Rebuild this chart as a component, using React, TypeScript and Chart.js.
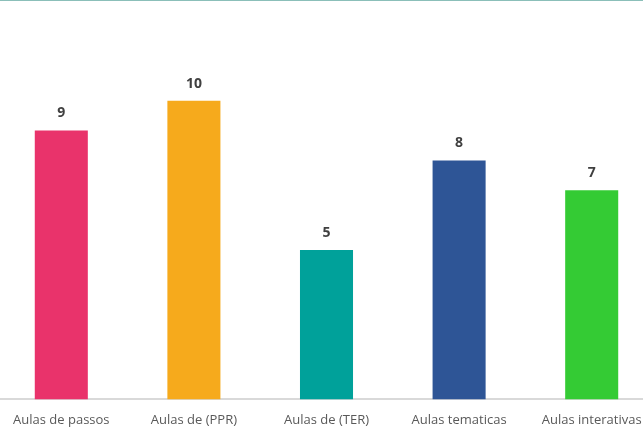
import React, { useEffect, useRef } from "react";
import { Chart, registerables } from "chart.js";

Chart.register(...registerables);

const categories = ["Aulas de passos", "Aulas de (PPR)", "Aulas de (TER)", "Aulas tematicas", "Aulas interativas"];
const values = [9, 10, 5, 8, 7];
const colors = ["#E9336B", "#F6AA1C", "#00A19A", "#2E5596", "#34CB34"];

const FONT = "'Open Sans', 'Noto Sans', sans-serif";

const extras = {
  id: "extras",
  afterDraw(chart: any) {
    const ctx = chart.ctx;
    ctx.save();
    // top line
    ctx.strokeStyle = "#8BBFB9";
    ctx.lineWidth = 2;
    ctx.beginPath();
    ctx.moveTo(0, 0);
    ctx.lineTo(chart.width, 0);
    ctx.stroke();
    // data labels
    const meta = chart.getDatasetMeta(0);
    ctx.fillStyle = "#404040";
    ctx.font = `bold 14px ${FONT}`;
    ctx.textAlign = "center";
    ctx.textBaseline = "middle";
    meta.data.forEach((bar: any, i: number) => {
      ctx.fillText(String(values[i]), bar.x, bar.y - 17);
    });
    ctx.restore();
  },
};

export default function App() {
  const ref = useRef<HTMLCanvasElement>(null);
  useEffect(() => {
    if (!ref.current) return;
    const chart = new Chart(ref.current, {
      type: "bar",
      data: {
        labels: categories,
        datasets: [
          {
            data: values,
            backgroundColor: colors,
            barPercentage: 0.5,
            categoryPercentage: 0.8,
          },
        ],
      },
      options: {
        animation: false,
        responsive: true,
        maintainAspectRatio: false,
        layout: { padding: { top: 11, left: 0, right: 0, bottom: 0 } },
        plugins: { legend: { display: false }, tooltip: { enabled: false } },
        scales: {
          y: { display: false, min: 0, max: 13 },
          x: {
            grid: { display: false, drawTicks: false },
            border: { display: true, color: "#D9D9D9", width: 2 },
            ticks: {
              color: "#595959",
              font: { family: FONT, size: 13 },
              padding: 13,
              maxRotation: 0,
              autoSkip: false,
            },
          },
        },
      },
      plugins: [extras],
    });
    return () => chart.destroy();
  }, []);
  return (
    <div style={{ position: "fixed", left: -5, top: 0, width: 663, height: 441, background: "#fff" }}>
      <canvas ref={ref} />
    </div>
  );
}
